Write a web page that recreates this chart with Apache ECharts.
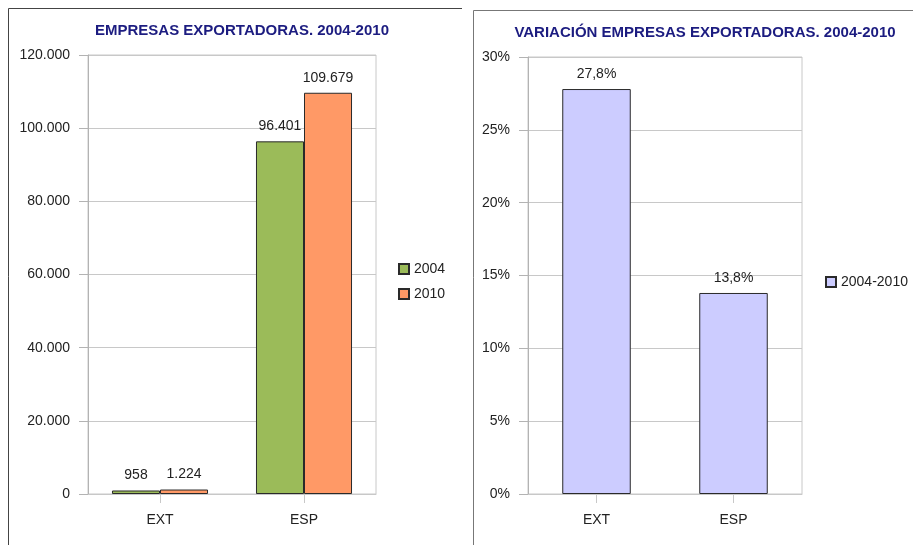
<!DOCTYPE html>
<html>
<head>
<meta charset="utf-8">
<script src="https://cdn.jsdelivr.net/npm/echarts@6/dist/echarts.min.js"></script>
<style>
html,body{margin:0;padding:0;background:#fff;}
#chart{width:913px;height:545px;}
</style>
</head>
<body>
<div id="chart"></div>
<script>
// Exporting companies, absolute counts
const categories = ['EXT', 'ESP'];
const companies2004 = [958, 96401];
const companies2010 = [1224, 109679];
const countTicks = [0, 20000, 40000, 60000, 80000, 100000, 120000];

// Change 2004-2010, percent
const variation = [27.8, 13.8];
const pctTicks = [0, 5, 10, 15, 20, 25, 30];

const FONT = '"Liberation Sans", Arial, sans-serif';
const fmtThousands = v => String(Math.round(v)).replace(/\B(?=(\d{3})+(?!\d))/g, '.');
const fmtPct = v => v.toFixed(1).replace('.', ',') + '%';

const chart = echarts.init(document.getElementById('chart'), null, {renderer: 'canvas'});

const axisCommon = {
  axisLine: {show: true, lineStyle: {color: '#b3b3b3'}},
  axisTick: {show: true, length: 9, lineStyle: {color: '#b3b3b3'}},
  splitLine: {show: true, lineStyle: {color: '#c8c8c8'}},
  axisLabel: {color: '#222', fontSize: 14, fontFamily: FONT, margin: 8}
};

const valueLabel = {show: true, position: 'top', distance: 8, color: '#222', fontSize: 14, fontFamily: FONT};

chart.setOption({
  animation: false,
  title: [
    {text: 'EMPRESAS EXPORTADORAS. 2004-2010', left: 237, top: 18, textAlign: 'center',
     textStyle: {color: '#1c1c80', fontSize: 15, fontWeight: 'bold', fontFamily: FONT}},
    {text: 'VARIACIÓN EMPRESAS EXPORTADORAS. 2004-2010', left: 700, top: 20, textAlign: 'center',
     textStyle: {color: '#1c1c80', fontSize: 15, fontWeight: 'bold', fontFamily: FONT}}
  ],
  legend: [
    {data: ['2004', '2010'], orient: 'vertical', left: 393, top: 257, itemWidth: 10, itemHeight: 10,
     itemGap: 11, icon: 'rect', textStyle: {fontSize: 14, color: '#222', fontFamily: FONT}},
    {data: ['2004-2010'], orient: 'vertical', left: 820, top: 270, itemWidth: 10, itemHeight: 10,
     itemGap: 5, icon: 'rect', textStyle: {fontSize: 14, color: '#222', fontFamily: FONT}}
  ],
  grid: [
    {left: 88, top: 55, width: 288, height: 439, show: true, borderColor: '#c8c8c8', borderWidth: 1},
    {left: 528, top: 57, width: 274, height: 437, show: true, borderColor: '#c8c8c8', borderWidth: 1}
  ],
  xAxis: [
    {type: 'category', gridIndex: 0, data: categories,
     axisLine: {show: true, lineStyle: {color: '#c8c8c8'}},
     axisTick: {show: true, alignWithLabel: true, length: 9, lineStyle: {color: '#c8c8c8'}},
     axisLabel: {color: '#222', fontSize: 14, fontFamily: FONT, margin: 19}},
    {type: 'category', gridIndex: 1, data: categories,
     axisLine: {show: true, lineStyle: {color: '#c8c8c8'}},
     axisTick: {show: true, alignWithLabel: true, length: 9, lineStyle: {color: '#c8c8c8'}},
     axisLabel: {color: '#222', fontSize: 14, fontFamily: FONT, margin: 19}}
  ],
  yAxis: [
    Object.assign({}, axisCommon, {type: 'value', gridIndex: 0,
      min: countTicks[0], max: countTicks[countTicks.length - 1], interval: countTicks[1] - countTicks[0],
      axisLabel: Object.assign({}, axisCommon.axisLabel, {margin: 18, formatter: fmtThousands})}),
    Object.assign({}, axisCommon, {type: 'value', gridIndex: 1,
      min: pctTicks[0], max: pctTicks[pctTicks.length - 1], interval: pctTicks[1] - pctTicks[0],
      axisLabel: Object.assign({}, axisCommon.axisLabel, {margin: 18, formatter: v => v + '%'})})
  ],
  series: [
    {name: '2004', type: 'bar', xAxisIndex: 0, yAxisIndex: 0, data: companies2004,
     barGap: '0%', barCategoryGap: '33.3%',
     itemStyle: {color: '#9bbb59', borderColor: '#2a2a2a', borderWidth: 1},
     label: Object.assign({}, valueLabel, {formatter: p => fmtThousands(p.value)})},
    {name: '2010', type: 'bar', xAxisIndex: 0, yAxisIndex: 0, data: companies2010,
     barGap: '0%', barCategoryGap: '33.3%',
     itemStyle: {color: '#ff9966', borderColor: '#2a2a2a', borderWidth: 1},
     label: Object.assign({}, valueLabel, {formatter: p => fmtThousands(p.value)})},
    {name: '2004-2010', type: 'bar', xAxisIndex: 1, yAxisIndex: 1, data: variation,
     barWidth: '50%',
     itemStyle: {color: '#ccccff', borderColor: '#2a2a2a', borderWidth: 1},
     label: Object.assign({}, valueLabel, {formatter: p => fmtPct(p.value)})}
  ],
  graphic: [
    // panel frames
    {type: 'polyline', shape: {points: [[8.5, 545], [8.5, 8.5], [462, 8.5]]},
     style: {stroke: '#444', lineWidth: 1, fill: null}},
    {type: 'polyline', shape: {points: [[473.5, 545], [473.5, 10.5], [913, 10.5]]},
     style: {stroke: '#777', lineWidth: 1, fill: null}}
  ]
});
</script>
</body>
</html>
